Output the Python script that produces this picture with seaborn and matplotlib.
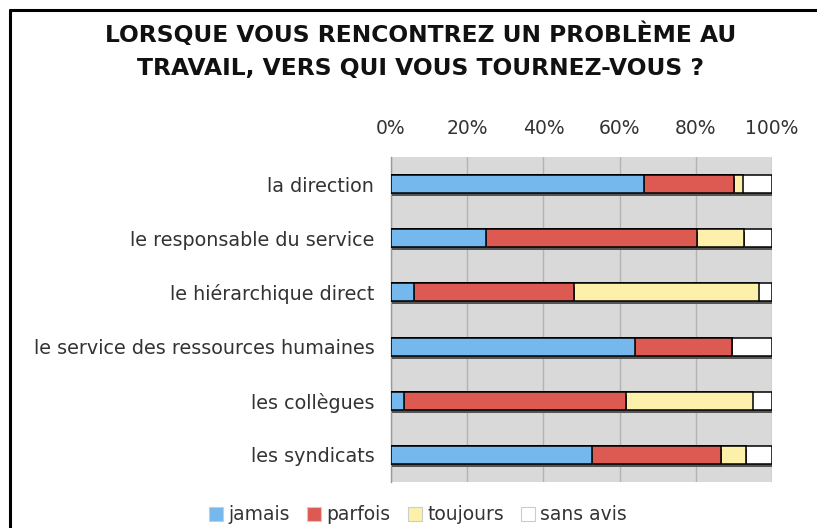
import numpy as np
import pandas as pd
import seaborn as sns
import matplotlib.pyplot as plt
import matplotlib.patheffects as pe
from matplotlib.lines import Line2D
from matplotlib.patches import Patch

# Data (percentages)
categories = ["la direction", "le responsable du service", "le hiérarchique direct",
              "le service des ressources humaines", "les collègues", "les syndicats"]
jamais = [66.5, 25.0, 6.1, 64.0, 3.5, 52.8]
parfois = [23.6, 55.3, 42.0, 25.6, 58.3, 33.8]
toujours = [2.2, 12.4, 48.4, 0.0, 33.1, 6.6]
sans_avis = [7.7, 7.3, 3.5, 10.4, 5.1, 6.8]

series_names = ["jamais", "parfois", "toujours", "sans avis"]
colors = ["#74b8ee", "#dc5a52", "#fdf0ab", "#ffffff"]
xticks = [0, 20, 40, 60, 80, 100]

title = "LORSQUE VOUS RENCONTREZ UN PROBLÈME AU\nTRAVAIL, VERS QUI VOUS TOURNEZ-VOUS ?"

df = pd.DataFrame({"categorie": categories, "jamais": jamais, "parfois": parfois,
                   "toujours": toujours, "sans avis": sans_avis})
# cumulative sums so the bars can be stacked by overdrawing
cum = df[series_names].cumsum(axis=1)

sns.set_style("white")
plt.rcParams["font.family"] = ["DejaVu Sans"]

fig = plt.figure(figsize=(8.17, 5.28), dpi=100)
ax = fig.add_axes([391 / 817, 1 - 482 / 528, 381 / 817, 325 / 528])
ax.set_facecolor("#d9d9d9")

shadow = [pe.SimplePatchShadow(offset=(0.6, -2.2), shadow_rgbFace="#555555", alpha=1.0), pe.Normal()]

# draw longest first so the shorter segments cover them
for name, col in zip(series_names[::-1], colors[::-1]):
    sns.barplot(x=cum[name], y=df["categorie"], orient="h", color=col,
                edgecolor="black", linewidth=1.1, width=0.33, saturation=1,
                ax=ax, zorder=3)

for p in ax.patches:
    p.set_path_effects(shadow)

ax.set_xlim(0, 100)
ax.set_ylim(5.5, -0.5)
ax.set_xticks(xticks)
ax.set_xticklabels([f"{t}%" for t in xticks])
ax.xaxis.tick_top()
ax.tick_params(axis="x", length=0, pad=14, labelsize=13.5, labelcolor="#333333")
ax.tick_params(axis="y", which="major", length=0, pad=12, labelsize=13.8, labelcolor="#333333")
ax.set_yticks(np.arange(-0.5, 6, 1), minor=True)
ax.tick_params(axis="y", which="minor", length=5, color="#999999", width=1)
ax.set_xlabel("")
ax.set_ylabel("")

ax.grid(axis="x", color="#b3b3b3", linewidth=1, zorder=0)
ax.set_axisbelow(True)
for s in ["top", "right", "bottom"]:
    ax.spines[s].set_visible(False)
ax.spines["left"].set_color("#999999")
ax.spines["left"].set_linewidth(1)

fig.text(0.515, 0.958, title, ha="center", va="top", fontsize=16.8, fontweight="bold",
         color="#111111", linespacing=1.55)

handles = [Patch(facecolor=c, edgecolor="#cccccc", linewidth=0.8) for c in colors]
fig.legend(handles, series_names, loc="center", bbox_to_anchor=(418 / 817, 1 - 515 / 528),
           ncol=4, frameon=False, fontsize=13.5, handlelength=0.75, handleheight=0.75,
           handletextpad=0.3, columnspacing=0.9, labelcolor="#333333")

# frame lines around the chart (top and left)
fig.add_artist(Line2D([10 / 817, 1], [1 - 10 / 528, 1 - 10 / 528], color="black", lw=2.2,
                      transform=fig.transFigure))
fig.add_artist(Line2D([10 / 817, 10 / 817], [0, 1 - 10 / 528], color="black", lw=2.2,
                      transform=fig.transFigure))

fig.savefig("out.png", dpi=100)
